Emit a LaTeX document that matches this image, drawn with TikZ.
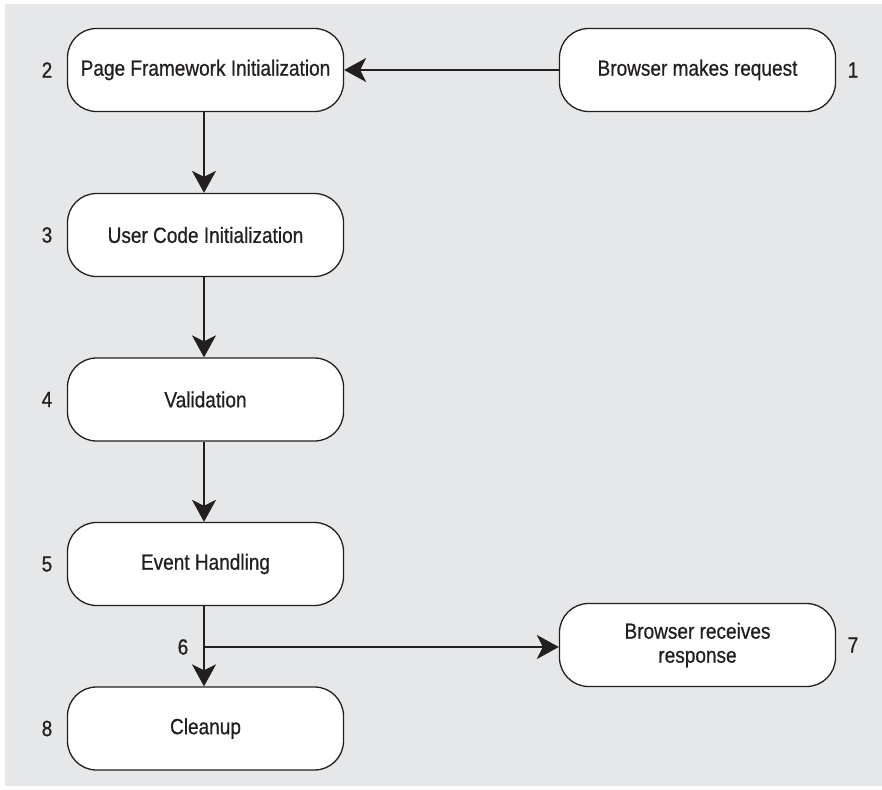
\documentclass[tikz,border=0pt]{standalone}
\usepackage{fontspec}
\setmainfont{Liberation Sans}[FakeStretch=0.865,FakeBold=0.7]
\usetikzlibrary{arrows.meta}
\definecolor{bggray}{HTML}{E6E7E8}
\definecolor{ink}{HTML}{231F20}
\tikzset{
  stepbox/.style={draw=ink, line width=1.3pt, fill=white, rounded corners=29pt,
    minimum width=276pt, minimum height=83pt, inner sep=0pt, align=center,
    font=\fontsize{22}{24}\selectfont, text=ink},
  numlabel/.style={font=\fontsize{22}{24}\selectfont, text=ink, inner sep=0pt},
  flow/.style={draw=ink, line width=2.2pt, -{Stealth[length=22pt,width=24pt,inset=6pt]}}
}
\begin{document}
\begin{tikzpicture}[x=1pt,y=-1pt]
\useasboundingbox (0,0) rectangle (882,789);
\fill[bggray] (5,4) rectangle (882,786);
\node[stepbox] (b1) at (697.5,70) {Browser makes request};
\node[stepbox] (b2) at (205.5,70) {Page Framework Initialization};
\node[stepbox] (b3) at (205.5,235) {User Code Initialization};
\node[stepbox] (b4) at (205.5,399.5) {Validation};
\node[stepbox] (b5) at (205.5,564) {Event Handling};
\node[stepbox] (b8) at (205.5,728.5) {Cleanup};
\node[stepbox] (b7) at (697.5,645) {Browser receives\\response};
\node[numlabel] (n1) at (853,70) {1};
\node[numlabel] (n2) at (47,70) {2};
\node[numlabel] (n3) at (47,235) {3};
\node[numlabel] (n4) at (47,399.5) {4};
\node[numlabel] (n5) at (47,564) {5};
\node[numlabel] (n6) at (183,647) {6};
\node[numlabel] (n7) at (853,645) {7};
\node[numlabel] (n8) at (47,728.5) {8};
\coordinate (j) at (204,647);
\draw[flow] (b1.west) -- (b2.east);
\draw[flow] (b2.south -| 204,0) -- (b3.north -| 204,0);
\draw[flow] (b3.south -| 204,0) -- (b4.north -| 204,0);
\draw[flow] (b4.south -| 204,0) -- (b5.north -| 204,0);
\draw[flow] (b5.south -| 204,0) -- (b8.north -| 204,0);
\draw[flow] (j) -- (j -| b7.west);
\end{tikzpicture}
\end{document}
